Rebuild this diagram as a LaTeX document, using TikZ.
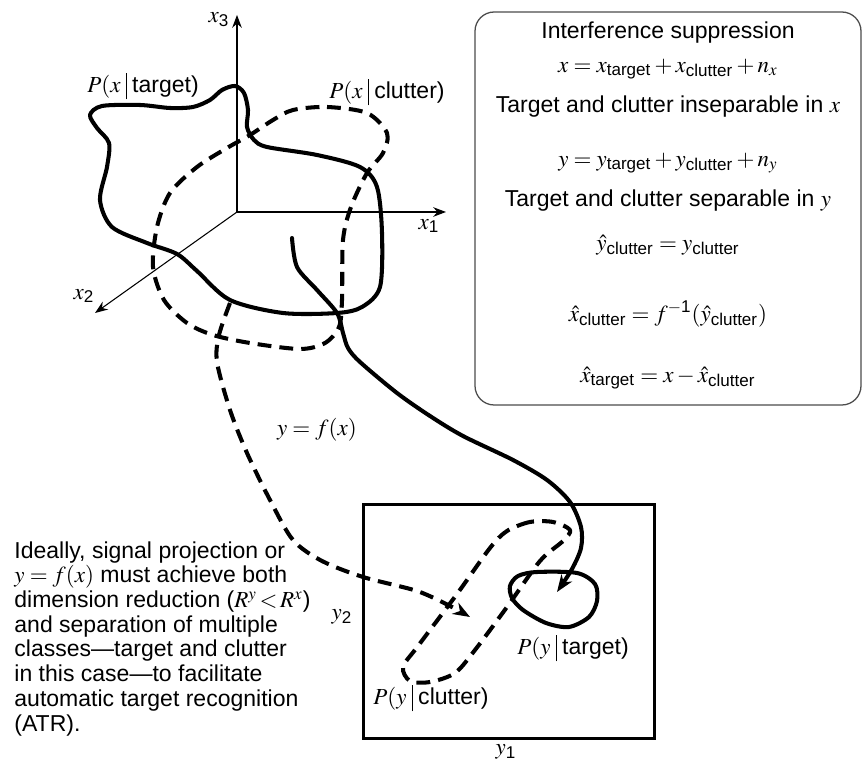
\documentclass[tikz,border=0pt]{standalone}
\usepackage{mathptmx}
\usepackage{amsmath}
\usepackage{fontspec}
\setmainfont{Liberation Sans}
\usetikzlibrary{arrows.meta}

\newcommand{\given}[2]{$P(#1$\hspace{2.5pt}\rule[-3pt]{0.45pt}{12.5pt}\hspace{2.5pt}#2)}
\newcommand{\sub}[1]{\text{#1}}

\begin{document}
\begin{tikzpicture}[x=0.0165cm, y=-0.0165cm,
  every node/.style={font=\fontsize{10.8}{11.6}\selectfont, inner sep=0pt},
  axisline/.style={line width=0.5pt, -{Stealth[length=6pt, width=4.5pt]}},
  tgtline/.style={line width=1.9pt, line cap=round, line join=round},
  clutline/.style={line width=1.9pt, line join=round, dash pattern=on 6.5pt off 3.8pt},
  maparrow/.style={-{Stealth[length=8pt, width=6pt, inset=2.5pt]}},
  infoline/.style={anchor=center}]
\useasboundingbox (0,0) rectangle (862,761);

% x space axes
\coordinate (O) at (237,212);
\coordinate (x3end) at (237,15);
\coordinate (x1end) at (446,212);
\coordinate (x2end) at (95,313);
\draw[axisline] (O) -- (x3end);
\draw[axisline] (O) -- (x1end);
\draw[axisline] (O) -- (x2end);
\node (x3lab) at (219,20) {$x_{\sub{3}}$};
\node (x1lab) at (429,226) {$x_{\sub{1}}$};
\node (x2lab) at (84,296) {$x_{\sub{2}}$};

% class regions in x
\draw[tgtline] plot[smooth cycle] coordinates {(90,115) (102,106) (140,105) (170,108) (193,107)
  (210,100) (222,90) (235,86) (244,93) (248,110) (247,127) (254,140) (267,147) (317,155)
  (360,167) (377,187) (382,233) (380,287) (362,307) (337,313) (283,313) (230,300) (197,271)
  (177,254) (147,243) (112,227) (100,200) (107,167) (109,143) (97,128)};
\draw[clutline] plot[smooth cycle] coordinates {(293,110) (327,107) (367,113) (387,133) (383,153)
  (367,173) (351,207) (343,240) (342,300) (339,327) (325,343) (300,349) (250,343) (213,335)
  (187,323) (164,300) (153,267) (157,227) (170,193) (197,167) (227,148) (250,135) (273,120)};
\node (pxt) at (143,86) {\given{x}{target}};
\node (pxc) at (387,92) {\given{x}{clutter}};

% y space
\node (ybox) [draw, line width=1.4pt, minimum width=291*0.0165cm, minimum height=234*0.0165cm,
  anchor=north west] at (362,503) {};
\node (y1lab) at (506,752) {$y_{\sub{1}}$};
\node (y2lab) at (342,617) {$y_{\sub{2}}$};
\draw[tgtline] plot[smooth cycle] coordinates {(510,586) (518,576) (537,572) (577,573) (595,584)
  (597,601) (589,617) (569,627) (546,623) (523,610) (512,598)};
\draw[clutline] plot[smooth cycle] coordinates {(553,522) (530,522) (507,531) (490,548) (457,594)
  (418,646) (403,667) (410,681) (430,682) (455,673) (475,650) (507,607) (540,561) (563,541)
  (570,530)};
\node (pyt) at (573,648) {\given{y}{target}};
\node (pyc) at (431,698) {\given{y}{clutter}};

% projection y = f(x)
\coordinate (tstart) at (292,238);
\coordinate (tend) at (557,592);
\coordinate (cstart) at (230,303);
\coordinate (cend) at (470,617);
\draw[tgtline, maparrow] plot[smooth] coordinates {(tstart) (297,267) (317,290) (337,313)
  (343,333) (348,348) (360,362) (397,393) (430,416) (463,436) (513,460) (547,480) (570,502)
  (581,527) (581,548) (572,569) (tend)};
\draw[clutline, maparrow] plot[smooth] coordinates {(cstart) (219,335) (217,362) (230,410)
  (247,453) (270,500) (293,540) (322,561) (363,577) (417,591) (450,606) (cend)};
\node (fx) at (317,430) {$y = f(x)$};

% interference suppression box
\draw[black!70, line width=0.6pt, rounded corners=9pt] (475,12) rectangle (861,405);
\node (info1) [infoline] at (668,33) {Interference suppression};
\node (info2) [infoline] at (668,69) {$x = x_{\sub{target}} + x_{\sub{clutter}} + n_x$};
\node (info3) [infoline] at (668,107) {Target and clutter inseparable in $x$};
\node (info4) [infoline] at (668,163) {$y = y_{\sub{target}} + y_{\sub{clutter}} + n_y$};
\node (info5) [infoline] at (668,201) {Target and clutter separable in $y$};
\node (info6) [infoline] at (668,245) {$\hat{y}_{\sub{clutter}} = y_{\sub{clutter}}$};
\node (info7) [infoline] at (668,314) {$\hat{x}_{\sub{clutter}} = f^{\sub{$-$1}}(\hat{y}_{\sub{clutter}})$};
\node (info8) [infoline] at (668,378) {$\hat{x}_{\sub{target}} = x - \hat{x}_{\sub{clutter}}$};

% explanation
\node (note) [anchor=north west, align=left] at (14,541) {Ideally, signal projection or\\
$y = f(x)$ must achieve both\\
dimension reduction ($R^y\!<\!R^x$)\\
and separation of multiple\\
classes---target and clutter\\
in this case---to facilitate\\
automatic target recognition\\
(ATR).};
\end{tikzpicture}
\end{document}
